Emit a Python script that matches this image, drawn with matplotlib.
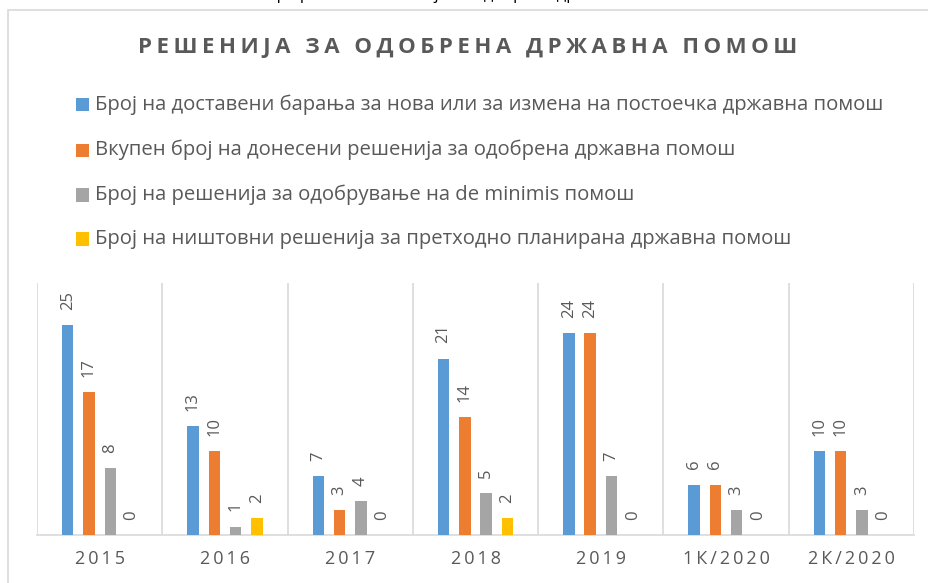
import matplotlib
matplotlib.use('Agg')
import matplotlib.pyplot as plt
import numpy as np
from matplotlib.patches import Rectangle

plt.rcParams['font.family'] = ['Open Sans', 'DejaVu Sans']

categories = ['2015', '2016', '2017', '2018', '2019', '1К/2020', '2К/2020']
submitted = [25, 13, 7, 21, 24, 6, 10]
approved = [17, 10, 3, 14, 24, 6, 10]
de_minimis = [8, 1, 4, 5, 7, 3, 3]
void = [0, 2, 0, 2, 0, 0, 0]

series_names = [
    'Број на доставени барања за нова или за измена на постоечка државна помош',
    'Вкупен број на донесени решенија за одобрена државна помош',
    'Број на решенија за одобрување на de minimis помош',
    'Број на ништовни решенија за претходно планирана државна помош',
]
colors = ['#5B9BD5', '#ED7D31', '#A5A5A5', '#FFC000']
txt = '#595959'
grid = '#D9D9D9'


def spaced(s, sep='\u2009'):
    return sep.join(s)


W, H = 929, 583
fig = plt.figure(figsize=(W / 100, H / 100), dpi=100)

# chart border (runs off the right and bottom edge)
fig.patches.append(Rectangle((8 / W, -0.1), 1.2, 1 - 10 / H + 0.1,
                             transform=fig.transFigure, fill=False,
                             edgecolor=grid, linewidth=1.2))

# caption line above the chart, cut off by the top edge
fig.text(0.515, 1 + 1 / H, 'Графикон 1: Решенија за одобрена државна помош',
         ha='center', va='baseline', fontsize=12, color='black')

fig.text(468 / W, 1 - 48 / H, spaced('РЕШЕНИЈА ЗА ОДОБРЕНА ДРЖАВНА ПОМОШ'),
         ha='center', va='center', fontsize=16, fontweight='bold', color=txt)

# legend drawn as rows
rows_y = [105, 150, 195, 239]
for name, c, yy in zip(series_names, colors, rows_y):
    fig.patches.append(Rectangle((76 / W, 1 - (yy + 6.5) / H), 13 / W, 13 / H,
                                 transform=fig.transFigure, facecolor=c,
                                 edgecolor='none'))
    fig.text(95 / W, 1 - yy / H, name, ha='left', va='center',
             fontsize=14.6, color=txt)

ax = fig.add_axes([37 / W, (H - 535) / H, 877 / W, 252 / H])
x = np.arange(len(categories))
offsets = [-0.255, -0.085, 0.085, 0.255]
width = 0.092
for vals, c, off in zip([submitted, approved, de_minimis, void], colors, offsets):
    bars = ax.bar(x + off, vals, width, color=c, zorder=3)
    for b, v in zip(bars, vals):
        ax.annotate(str(v), (b.get_x() + b.get_width() / 2, v),
                    xytext=(0, 11), textcoords='offset points',
                    rotation=90, ha='center', va='bottom',
                    fontsize=12, color=txt)

ax.set_xlim(-0.5, len(categories) - 0.5)
ax.set_ylim(0, 30)
for b in np.arange(-0.5, len(categories), 1):
    ax.axvline(b, color=grid, linewidth=1.2, zorder=1)
ax.set_yticks([])
ax.set_xticks(x)
ax.set_xticklabels([spaced(c) for c in categories], fontsize=13, color=txt)
ax.tick_params(axis='x', length=0, pad=11)
for s in ['top', 'left', 'right']:
    ax.spines[s].set_visible(False)
ax.spines['bottom'].set_color(grid)
ax.spines['bottom'].set_linewidth(1.2)

fig.savefig('out.png', dpi=100)
